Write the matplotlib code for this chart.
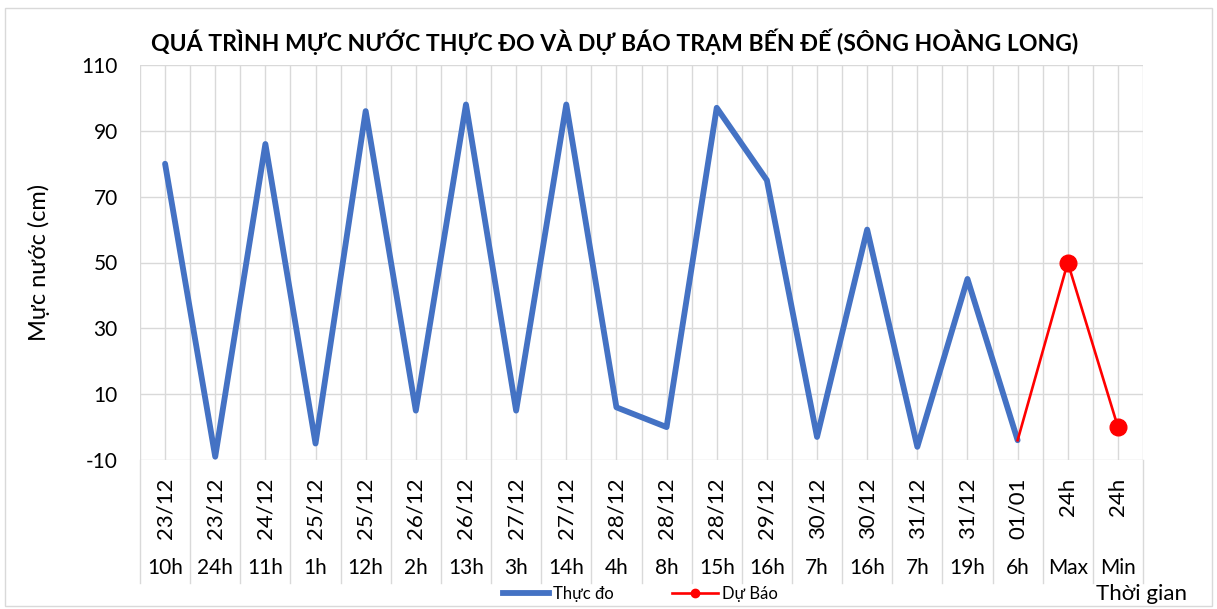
import matplotlib
matplotlib.use("Agg")
import matplotlib.pyplot as plt
from matplotlib.lines import Line2D
from matplotlib.patches import Rectangle

plt.rcParams['font.family'] = ['Lato', 'DejaVu Sans']
plt.rcParams['axes.unicode_minus'] = False

dates = ["23/12", "23/12", "24/12", "25/12", "25/12", "26/12", "26/12", "27/12", "27/12",
         "28/12", "28/12", "28/12", "29/12", "30/12", "30/12", "31/12", "31/12", "01/01",
         "24h", "24h"]
hours = ["10h", "24h", "11h", "1h", "12h", "2h", "13h", "3h", "14h", "4h", "8h", "15h",
         "16h", "7h", "16h", "7h", "19h", "6h", "Max", "Min"]
observed = [80, -9, 86, -5, 96, 5, 98, 5, 98, 6, 0, 97, 75, -3, 60, -6, 45, -4]
forecast_idx = [17, 18, 19]
forecast = [-4, 50, 0]

W, H = 1217, 609
fig = plt.figure(figsize=(W / 100, H / 100), dpi=100)
fig.patches.append(Rectangle((5 / W, 3 / H), 1 - 10 / W, 1 - 11 / H, transform=fig.transFigure,
                             fill=False, edgecolor='#D9D9D9', linewidth=1.0))
ax = fig.add_axes([140 / W, 1 - 460 / H, (1143 - 140) / W, (460 - 65) / H])

n = len(hours)
x_obs = list(range(len(observed)))
ax.plot(x_obs, observed, color='#4472C4', linewidth=4.2, solid_capstyle='round',
        solid_joinstyle='round', label='Thực đo', zorder=3)
ax.plot(forecast_idx, forecast, color='#FF0000', linewidth=1.9, label='Dự Báo', zorder=4)
ax.plot(forecast_idx[1:], forecast[1:], 'o', color='#FF0000', markersize=12, zorder=5)

ax.set_xlim(-0.5, n - 0.5)
ax.set_ylim(-10, 110)
ax.set_yticks(range(-10, 111, 20))
ax.tick_params(axis='y', length=0, labelsize=15, pad=16)
ax.set_xticks([])
for i in range(n * 2 + 1):
    ax.axvline(-0.5 + i * 0.5, color='#D9D9D9', linewidth=1.0, zorder=0)
for v in range(-10, 111, 20):
    ax.axhline(v, color='#D9D9D9', linewidth=1.0, zorder=0)
for s in ax.spines.values():
    s.set_visible(False)

trans = ax.get_xaxis_transform()
for i in range(n + 1):
    ax.add_line(Line2D([i - 0.5, i - 0.5], [0, -0.311], transform=trans, color='#D9D9D9',
                       linewidth=1.0, clip_on=False))
for i in range(n):
    ax.text(i, -0.045, dates[i], transform=trans, rotation=90, ha='center', va='top',
            fontsize=16)
    ax.text(i, -0.273, hours[i], transform=trans, ha='center', va='center', fontsize=15)

ax.set_ylabel('Mực nước (cm)', fontsize=17)
ax.yaxis.set_label_coords(-(140 - 50) / (1143 - 140), 0.5)

fig.text(615 / W, 1 - 42 / H, 'QUÁ TRÌNH MỰC NƯỚC THỰC ĐO VÀ DỰ BÁO TRẠM BẾN ĐẾ (SÔNG HOÀNG LONG)',
         ha='center', va='center', fontsize=16.6, fontweight='bold')
fig.text(1142 / W, 1 - 594 / H, 'Thời gian', ha='center', va='center', fontsize=16)

handles = [Line2D([], [], color='#4472C4', linewidth=4.2),
           Line2D([], [], color='#FF0000', linewidth=1.9, marker='o', markersize=6)]
fig.legend(handles, ['Thực đo', 'Dự Báo'], loc='center', bbox_to_anchor=(640 / W, 1 - 594 / H),
           ncol=2, frameon=False, fontsize=12, handlelength=2.8, columnspacing=3.5,
           handletextpad=0.2)

fig.savefig('out.png', dpi=100)
